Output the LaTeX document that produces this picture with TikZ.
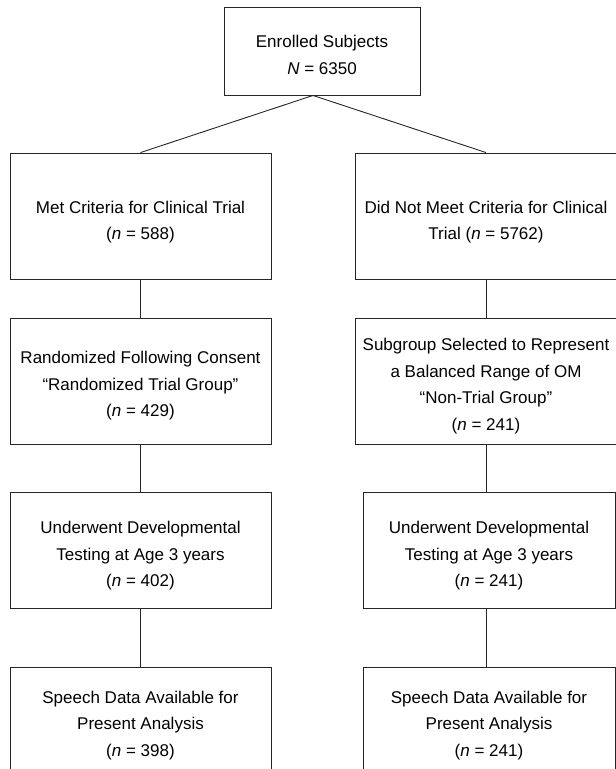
\documentclass[tikz,border=0pt]{standalone}
\usepackage{fontspec}
\setmainfont{Liberation Sans}
\newcommand\dshift[1]{\rule{0pt}{\dimexpr 12.5pt+2\dimexpr #1\relax\relax}}
\begin{document}
\begin{tikzpicture}[x=1pt,y=-1pt,
  box/.style={draw=black!85, line width=0.9pt, align=center, inner sep=0pt,
    font=\fontsize{17}{26.5}\selectfont, text=black, anchor=center},
  conn/.style={draw=black!85, line width=0.9pt}]
\useasboundingbox (0,0) rectangle (616,769);
\node[box, minimum width=196pt, minimum height=88pt] (top) at (322,51)
  {\dshift{4pt}Enrolled Subjects\\\textit{N} = 6350};
\node[box, minimum width=261pt, minimum height=126pt] (l1) at (140.5,216)
  {\dshift{6pt}Met Criteria for Clinical Trial\\(\textit{n} = 588)};
\node[box, minimum width=262pt, minimum height=126pt] (r1) at (486,216)
  {\dshift{6pt}Did Not Meet Criteria for Clinical\\Trial (\textit{n} = 5762)};
\node[box, minimum width=261pt, minimum height=126pt] (l2) at (140.5,381)
  {\dshift{5pt}Randomized Following Consent\\“Randomized Trial Group”\\(\textit{n} = 429)};
\node[box, minimum width=262pt, minimum height=126pt] (r2) at (486,381)
  {\dshift{5pt}Subgroup Selected to Represent\\a Balanced Range of OM\\“Non-Trial Group”\\(\textit{n} = 241)};
\node[box, minimum width=261pt, minimum height=116pt] (l3) at (140.5,550)
  {\dshift{6pt}Underwent Developmental\\Testing at Age 3 years\\(\textit{n} = 402)};
\node[box, minimum width=252pt, minimum height=116pt] (r3) at (489,550)
  {\dshift{6pt}Underwent Developmental\\Testing at Age 3 years\\(\textit{n} = 241)};
\node[box, minimum width=261pt, minimum height=110pt] (l4) at (140.5,722)
  {\dshift{3pt}Speech Data Available for\\Present Analysis\\(\textit{n} = 398)};
\node[box, minimum width=252pt, minimum height=110pt] (r4) at (489,722)
  {\dshift{3pt}Speech Data Available for\\Present Analysis\\(\textit{n} = 241)};
\coordinate (apex) at ([xshift=-9pt]top.south);
\draw[conn] (apex) -- (l1.north);
\draw[conn] (apex) -- (r1.north);
\draw[conn] (l1.south) -- (l2.north);
\draw[conn] (l2.south) -- (l3.north);
\draw[conn] (l3.south) -- (l4.north);
\draw[conn] (r1.south) -- (r2.north);
\draw[conn] (r2.south) -- (r2.south |- r3.north);
\draw[conn] (r2.south |- r3.south) -- (r2.south |- r4.north);
\end{tikzpicture}
\end{document}
